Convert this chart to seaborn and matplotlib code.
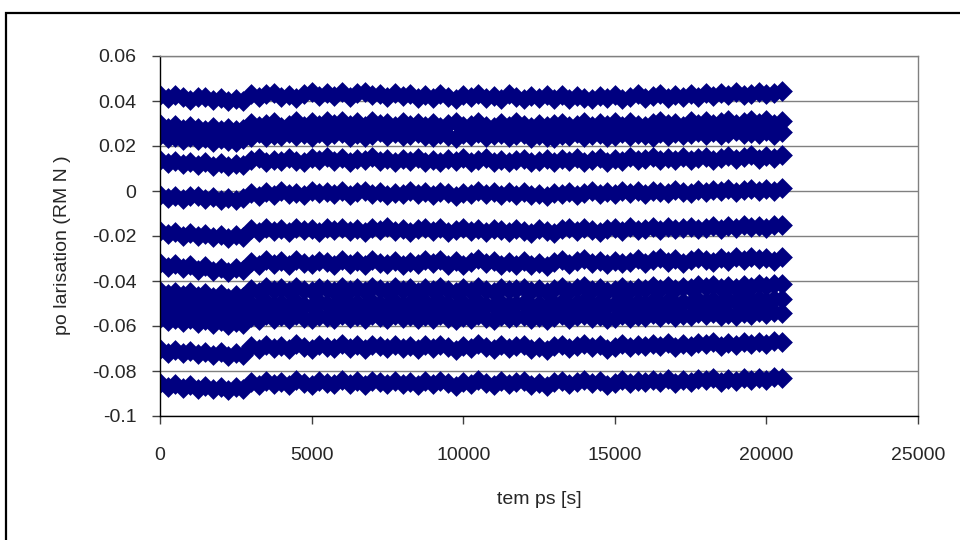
import numpy as np
import pandas as pd
import matplotlib
matplotlib.use("Agg")
import matplotlib.pyplot as plt
from matplotlib.patches import Rectangle
import seaborn as sns

# temps d'acquisition [s] (one sample every 250 s)
temps = np.arange(0, 20501, 250)

# polarisation values, in units of 1e-3
s1 = [42.5, 41.2, 42.8, 41.9, 40.6, 41.7, 42.0, 40.3, 41.4, 39.8, 41.1, 40.2,
      43.1, 41.6, 42.9, 43.4, 41.8, 42.6, 41.5, 43.2, 44.0, 42.3, 43.6, 42.1,
      43.8, 42.0, 43.5, 44.1, 42.6, 43.0, 41.9, 43.4, 42.2, 43.1, 41.4, 42.7,
      41.3, 42.9, 41.8, 40.9, 42.5, 41.6, 43.0, 41.2, 42.4, 41.0, 43.1, 42.0,
      40.8, 42.4, 41.3, 42.7, 41.0, 42.6, 40.9, 42.1, 41.5, 40.7, 42.3, 41.2,
      42.5, 40.9, 41.8, 42.9, 41.4, 42.2, 43.0, 41.3, 42.7, 41.9, 43.2, 42.0,
      43.4, 42.1, 43.7, 42.6, 44.0, 42.8, 43.3, 44.2, 42.9, 43.6, 44.3]
s2 = [29.9, 28.2, 29.4, 27.6, 28.8, 28.0, 27.1, 28.5, 26.9, 28.1, 27.0, 27.7,
      30.4, 28.8, 29.9, 30.7, 28.6, 29.5, 31.1, 29.0, 30.6, 29.3, 30.9, 29.6,
      31.0, 29.2, 30.5, 28.9, 31.2, 29.7, 30.3, 28.8, 30.8, 29.4, 30.1, 28.7,
      30.2, 28.6, 29.8, 30.6, 28.9, 29.5, 30.8, 29.1, 28.5, 30.3, 29.0, 30.7,
      29.4, 28.3, 30.0, 28.8, 29.6, 30.4, 28.7, 29.2, 30.6, 28.9, 30.1, 29.3,
      30.5, 29.0, 30.8, 29.4, 28.9, 30.3, 31.0, 29.6, 30.4, 29.1, 30.9, 29.8,
      31.2, 29.6, 30.7, 31.5, 29.9, 30.6, 31.7, 30.2, 31.4, 30.0, 31.1]
s3 = [24.9, 23.4, 24.2, 22.8, 23.9, 22.5, 23.6, 22.0, 23.1, 22.4, 21.9, 23.0,
      24.1, 25.6, 23.9, 25.0, 24.4, 26.0, 24.6, 25.3, 23.8, 25.7, 24.5, 25.2,
      25.9, 24.2, 25.4, 24.0, 25.1, 26.1, 24.5, 25.6, 24.3, 24.9, 25.8, 24.4,
      24.0, 25.5, 24.3, 23.7, 25.2, 24.6, 25.8, 23.9, 24.8, 25.4, 23.8, 24.9,
      25.3, 23.6, 24.7, 24.1, 23.4, 25.1, 24.4, 25.6, 23.9, 24.8, 25.5, 24.0,
      24.6, 25.9, 24.3, 25.4, 24.8, 23.9, 25.7, 24.5, 26.0, 24.7, 25.2, 26.1,
      25.0, 26.3, 24.9, 25.8, 26.5, 25.2, 26.0, 25.4, 26.6, 25.1, 26.2]
s4 = [13.9, 12.6, 13.4, 12.0, 13.1, 11.7, 12.8, 11.3, 12.4, 10.9, 12.1, 11.5,
      13.6, 14.5, 12.9, 14.0, 13.3, 14.8, 13.5, 12.8, 14.6, 13.7, 15.0, 13.2,
      14.7, 13.1, 14.2, 13.6, 15.0, 13.4, 14.4, 12.9, 14.1, 13.3, 14.6, 13.0,
      13.7, 12.8, 14.3, 13.2, 14.6, 12.9, 13.8, 14.5, 13.0, 14.0, 12.7, 13.9,
      14.2, 12.9, 13.5, 14.4, 12.8, 14.1, 13.3, 14.7, 13.1, 13.9, 14.6, 12.9,
      14.4, 13.3, 14.9, 13.7, 14.2, 15.1, 13.6, 14.5, 13.9, 15.2, 14.0, 14.8,
      15.3, 13.9, 14.7, 15.5, 14.2, 15.0, 15.8, 14.4, 15.4, 14.8, 16.0]
s5 = [-1.6, -2.9, -2.0, -3.4, -2.4, -2.0, -3.6, -2.7, -4.0, -3.0, -4.2, -3.3,
      -1.0, -2.1, -0.5, -1.6, -0.2, -1.3, -0.7, -1.9, 0.1, -1.0, -0.4, -1.5,
      -0.2, -1.6, -0.6, 0.2, -1.2, -0.4, -1.8, -0.7, -1.3, 0.0, -1.5, -0.6,
      -1.8, -0.5, -1.1, -2.0, -0.7, -1.4, 0.0, -1.2, -0.3, -1.7, -0.6, -1.9,
      -0.6, -1.9, -1.2, -2.2, -0.8, -1.5, -0.3, -1.7, -0.9, 0.0, -1.4, -0.5,
      -1.2, 0.1, -0.8, -0.2, -1.4, 0.2, -0.5, -1.0, 0.4, -0.3, -1.1, 0.3,
      -0.6, 0.6, -0.2, 0.9, -0.4, 0.5, 1.1, -0.1, 0.8, 0.2, 1.2]
s6 = [-17.9, -19.3, -18.4, -19.8, -18.7, -20.1, -19.0, -20.6, -19.4, -21.0, -19.7, -20.4,
      -17.0, -18.2, -16.5, -17.6, -16.9, -18.0, -16.3, -17.4, -16.7, -18.1, -16.6, -17.3,
      -16.4, -17.8, -16.9, -18.2, -16.6, -17.3, -15.9, -17.7, -16.8, -18.3, -17.0, -16.5,
      -17.9, -16.6, -18.4, -17.2, -16.4, -17.8, -16.9, -18.1, -16.7, -17.5, -18.2, -16.8,
      -17.6, -18.5, -16.9, -17.9, -18.6, -17.1, -16.5, -17.8, -16.3, -17.4, -18.0, -16.9,
      -16.5, -17.7, -16.2, -17.4, -16.8, -15.9, -17.3, -16.1, -17.0, -16.4, -15.8, -17.1,
      -16.3, -15.4, -16.8, -15.7, -16.5, -15.2, -16.1, -15.6, -16.6, -15.3, -15.1]
s7 = [-32.1, -33.8, -32.6, -34.4, -33.0, -34.9, -33.5, -35.4, -34.0, -35.8, -34.3, -35.1,
      -31.5, -32.9, -30.8, -32.3, -31.2, -33.0, -30.6, -31.9, -32.5, -30.9, -31.7, -32.8,
      -30.7, -32.4, -31.1, -32.9, -30.5, -31.8, -32.6, -31.0, -33.1, -31.6, -32.3, -30.8,
      -32.0, -30.6, -32.8, -31.3, -33.0, -31.5, -30.4, -32.2, -31.0, -32.7, -31.4, -32.9,
      -31.2, -33.0, -32.1, -33.2, -31.6, -30.6, -32.4, -31.1, -30.3, -32.0, -31.3, -32.5,
      -30.9, -32.1, -31.5, -30.4, -32.0, -30.8, -29.9, -31.6, -30.3, -31.8, -30.5, -29.8,
      -30.6, -31.5, -29.9, -31.1, -29.5, -30.7, -29.3, -30.4, -29.7, -30.9, -29.4]
s8 = [-44.3, -45.9, -44.8, -46.2, -45.0, -46.7, -45.4, -47.1, -45.8, -47.4, -46.1, -46.9,
      -43.6, -44.9, -42.8, -44.2, -43.1, -44.6, -42.6, -43.9, -44.5, -42.9, -43.7, -44.3,
      -42.5, -44.1, -43.0, -44.6, -42.7, -43.5, -44.4, -42.8, -44.0, -43.2, -44.7, -42.9,
      -44.2, -42.7, -43.8, -45.0, -43.3, -44.4, -42.6, -43.9, -44.8, -43.0, -44.1, -43.4,
      -43.0, -44.6, -43.7, -45.1, -43.4, -42.7, -44.3, -43.1, -42.4, -43.9, -42.9, -44.5,
      -43.8, -42.5, -44.0, -42.9, -43.6, -42.3, -43.4, -42.1, -43.7, -42.6, -43.2, -41.9,
      -42.7, -41.8, -43.2, -42.0, -42.9, -41.6, -42.5, -41.4, -42.3, -41.2, -41.5]
s9 = [-50.5, -52.0, -51.0, -52.4, -51.3, -52.8, -51.6, -53.2, -52.0, -53.5, -52.3, -53.0,
      -50.2, -51.3, -49.4, -50.8, -49.7, -51.0, -49.2, -50.5, -51.1, -49.5, -50.3, -50.9,
      -49.0, -50.6, -49.6, -51.0, -49.3, -50.1, -50.9, -49.4, -50.7, -49.8, -51.2, -49.5,
      -50.8, -49.3, -50.4, -51.5, -49.9, -50.9, -49.2, -50.5, -51.3, -49.6, -50.7, -50.0,
      -49.6, -51.1, -50.3, -51.6, -50.0, -49.3, -50.9, -49.7, -49.0, -50.5, -49.5, -51.0,
      -50.4, -49.1, -50.6, -49.5, -50.2, -48.9, -50.0, -48.7, -50.3, -49.2, -49.8, -48.5,
      -49.3, -48.4, -49.8, -48.6, -49.5, -48.2, -49.1, -48.0, -48.9, -47.8, -48.1]
s10 = [-56.4, -57.9, -56.8, -58.3, -57.1, -58.7, -57.5, -59.1, -57.9, -59.4, -58.2, -58.9,
       -56.0, -57.2, -55.3, -56.7, -55.6, -56.9, -55.1, -56.4, -57.0, -55.4, -56.2, -56.8,
       -54.9, -56.5, -55.5, -56.9, -55.2, -56.0, -56.8, -55.3, -56.6, -55.7, -57.1, -55.4,
       -56.7, -55.2, -56.3, -57.4, -55.8, -56.8, -55.1, -56.4, -57.2, -55.5, -56.6, -55.9,
       -55.5, -57.0, -56.2, -57.5, -55.9, -55.2, -56.8, -55.6, -54.9, -56.4, -55.4, -56.9,
       -56.3, -55.0, -56.5, -55.4, -56.1, -54.8, -55.9, -54.6, -56.2, -55.1, -55.7, -54.4,
       -55.2, -54.3, -55.7, -54.5, -55.4, -54.1, -55.0, -53.9, -54.8, -53.7, -54.0]
s11 = [-70.3, -71.8, -70.7, -72.1, -71.0, -72.6, -71.4, -73.0, -71.7, -73.3, -72.0, -72.8,
       -69.1, -70.3, -68.4, -69.8, -68.7, -70.0, -68.2, -69.5, -70.1, -68.5, -69.3, -69.9,
       -68.0, -69.6, -68.6, -70.0, -68.3, -69.1, -69.9, -68.4, -69.7, -68.8, -70.2, -68.5,
       -69.8, -68.3, -69.4, -70.5, -68.9, -69.9, -68.2, -69.5, -70.3, -68.6, -69.7, -69.0,
       -68.6, -70.1, -69.3, -70.6, -69.0, -68.3, -69.9, -68.7, -68.0, -69.5, -68.5, -70.0,
       -69.3, -68.0, -69.5, -68.4, -69.1, -67.8, -68.9, -67.6, -69.2, -68.1, -68.7, -67.4,
       -68.2, -67.3, -68.7, -67.5, -68.4, -67.1, -68.0, -66.9, -67.8, -66.7, -67.0]
s12 = [-85.5, -87.0, -85.9, -87.4, -86.2, -87.8, -86.6, -88.2, -86.9, -88.5, -87.2, -88.0,
       -85.1, -86.3, -84.4, -85.8, -84.7, -86.0, -84.2, -85.5, -86.1, -84.5, -85.3, -85.9,
       -84.0, -85.6, -84.6, -86.0, -84.3, -85.1, -85.9, -84.4, -85.7, -84.8, -86.2, -84.5,
       -85.8, -84.3, -85.4, -86.5, -84.9, -85.9, -84.2, -85.5, -86.3, -84.6, -85.7, -85.0,
       -84.6, -86.1, -85.3, -86.6, -85.0, -84.3, -85.9, -84.7, -84.0, -85.5, -84.5, -86.0,
       -85.3, -84.0, -85.5, -84.4, -85.1, -83.8, -84.9, -83.6, -85.2, -84.1, -84.7, -83.4,
       -84.2, -83.3, -84.7, -83.5, -84.4, -83.1, -84.0, -82.9, -83.8, -82.7, -83.0]

series = [s1, s2, s3, s4, s5, s6, s7, s8, s9, s10, s11, s12]

yticks = [0.06, 0.04, 0.02, 0, -0.02, -0.04, -0.06, -0.08, -0.1]
ytick_labels = ["0.06", "0.04", "0.02", "0", "-0.02", "-0.04", "-0.06", "-0.08", "-0.1"]
xticks = [0, 5000, 10000, 15000, 20000, 25000]
xtick_labels = ["0", "5000", "10000", "15000", "20000", "25000"]

frames = []
for i, s in enumerate(series):
    frames.append(pd.DataFrame({"temps": temps,
                                "polarisation": np.array(s) / 1000.0,
                                "serie": i + 1}))
df = pd.concat(frames, ignore_index=True)

sns.set_theme(style="white")
plt.rcParams["font.family"] = ["Liberation Sans", "DejaVu Sans"]

fig = plt.figure(figsize=(9.6, 5.4), dpi=100)
ax = fig.add_axes([160 / 960, 1 - 416 / 540, 758 / 960, 360 / 540])

sns.scatterplot(data=df, x="temps", y="polarisation", ax=ax,
                color="#000080", marker="D", s=112, linewidth=0, legend=False)

ax.set_xlim(0, 25000)
ax.set_ylim(-0.1, 0.06)
ax.set_xticks(xticks)
ax.set_xticklabels(xtick_labels)
ax.set_yticks(yticks)
ax.set_yticklabels(ytick_labels)
ax.yaxis.grid(True, color="#808080", linewidth=1)
ax.xaxis.grid(False)
ax.set_axisbelow(True)

for side in ["top", "right"]:
    ax.spines[side].set_color("#808080")
    ax.spines[side].set_linewidth(1)
for side in ["left", "bottom"]:
    ax.spines[side].set_color("black")
    ax.spines[side].set_linewidth(1)

ax.tick_params(axis="x", direction="out", length=6, width=1, color="#404040",
               pad=16, labelsize=14, bottom=True)
ax.tick_params(axis="y", direction="out", length=6, width=1, color="#404040",
               pad=11, labelsize=14, left=True)

ax.set_xlabel("tem ps [s]", fontsize=14)
ax.set_ylabel("po larisation (RM N )", fontsize=14)
ax.xaxis.set_label_coords(0.5, -0.233)
ax.xaxis.label.set_va("center")
ax.yaxis.set_label_coords(-0.129, 0.475)
ax.yaxis.label.set_va("center")

# outer chart frame (runs off the right and bottom edges)
fig.add_artist(Rectangle((6 / 960, -0.05), 1.2, 1 - 13 / 540 + 0.05,
                         transform=fig.transFigure, fill=False,
                         edgecolor="black", linewidth=1.6, clip_on=False))

fig.savefig("out.png", dpi=100)
